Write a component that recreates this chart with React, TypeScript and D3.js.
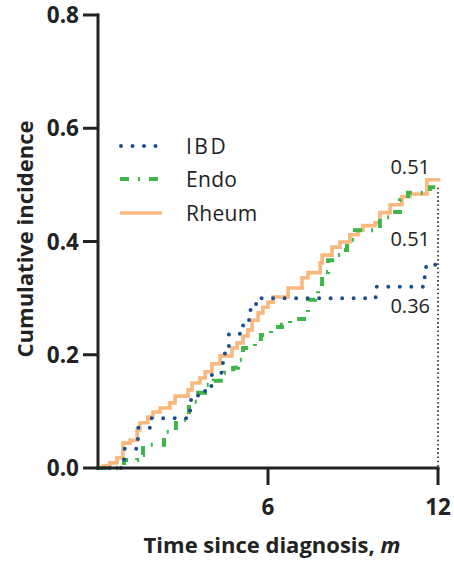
import React from "react";
import * as d3 from "d3";

const IBD_T = [0, 0.92, 1.41, 1.84, 3.25, 3.53, 3.78, 4.02, 4.41, 4.48, 4.62, 5.12, 5.33, 5.58, 5.72, 9.8, 11.52, 11.58, 12];
const IBD_Y = [0, 0.034, 0.071, 0.088, 0.12, 0.131, 0.145, 0.168, 0.186, 0.205, 0.237, 0.253, 0.279, 0.292, 0.3, 0.32, 0.337, 0.359, 0.359];

const ENDO_T = [0, 0.92, 1.38, 1.59, 2.33, 2.75, 3.21, 3.53, 3.78, 4.09, 4.45, 4.77, 4.94, 5.12, 5.54, 5.75, 6.11, 6.49, 6.78, 7.41, 7.66, 7.77, 7.91, 8.12, 8.37, 8.68, 8.79, 9.07, 9.95, 10.38, 10.66, 10.94, 11.72, 12.05];
const ENDO_Y = [0, 0.014, 0.023, 0.041, 0.064, 0.085, 0.117, 0.133, 0.147, 0.154, 0.168, 0.177, 0.191, 0.212, 0.223, 0.235, 0.249, 0.253, 0.263, 0.297, 0.304, 0.325, 0.346, 0.367, 0.376, 0.385, 0.403, 0.42, 0.443, 0.452, 0.473, 0.486, 0.496, 0.496];

const RHEUM_T = [0, 0.18, 0.42, 0.67, 0.88, 1.13, 1.38, 1.48, 1.76, 1.94, 2.19, 2.54, 2.72, 3.18, 3.32, 3.6, 3.78, 4.02, 4.31, 4.73, 4.91, 5.12, 5.29, 5.44, 5.65, 5.82, 6.0, 6.18, 6.71, 7.2, 7.41, 7.84, 7.91, 8.26, 8.54, 8.89, 9.18, 9.35, 9.78, 9.95, 10.31, 10.73, 11.01, 11.61, 12.08];
const RHEUM_Y = [0, 0.004, 0.009, 0.018, 0.044, 0.049, 0.067, 0.08, 0.09, 0.099, 0.106, 0.115, 0.127, 0.138, 0.15, 0.159, 0.17, 0.184, 0.198, 0.212, 0.221, 0.233, 0.244, 0.261, 0.274, 0.284, 0.293, 0.302, 0.318, 0.336, 0.345, 0.362, 0.376, 0.39, 0.399, 0.412, 0.42, 0.428, 0.433, 0.451, 0.465, 0.479, 0.484, 0.509, 0.509];

const Y_TICKS = [0, 0.2, 0.4, 0.6, 0.8];
const X_TICKS = [6, 12];
const SERIES_NAMES = ["IBD", "Endo", "Rheum"];
const END_LABELS = ["0.51", "0.51", "0.36"];

const C_IBD = "#1d4f8f";
const C_ENDO = "#3db54a";
const C_RHEUM = "#f8b87e";
const INK = "#222";
const FONT = "'Open Sans', 'Noto Sans', sans-serif";

export default function App() {
  const x = d3.scaleLinear().domain([0, 12]).range([98, 438]);
  const y = d3.scaleLinear().domain([0, 0.8]).range([468, 15]);

  const mk = (T: number[], Y: number[]) =>
    d3
      .line<number>()
      .x((_, i) => x(T[i]))
      .y((v) => y(v))
      .curve(d3.curveStepAfter)(Y) as string;

  const styles = [
    { stroke: C_IBD, width: 4, dash: "0 11.5", cap: "round" as const },
    { stroke: C_ENDO, width: 4, dash: "9 9 2 9", cap: "butt" as const },
    { stroke: C_RHEUM, width: 3.6, dash: "", cap: "butt" as const },
  ];

  const paths = [
    { d: mk(RHEUM_T, RHEUM_Y), s: styles[2] },
    { d: mk(ENDO_T, ENDO_Y), s: styles[1] },
    { d: mk(IBD_T, IBD_Y), s: styles[0] },
  ];

  const legendY = [146, 179, 213];
  const labelY = [174, 246, 313];

  return (
    <svg
      width={454}
      height={563}
      style={{ position: "absolute", left: 0, top: 0, background: "#fff" }}
      fontFamily={FONT}
    >
      <line
        x1={x(12)}
        x2={x(12)}
        y1={y(0.495)}
        y2={y(0)}
        stroke={INK}
        strokeWidth={1.6}
        strokeDasharray="1.6 2.6"
      />
      {paths.map((p, i) => (
        <path
          key={i}
          d={p.d}
          fill="none"
          stroke={p.s.stroke}
          strokeWidth={p.s.width}
          strokeDasharray={p.s.dash || undefined}
          strokeLinecap={p.s.cap}
        />
      ))}
      <line x1={x(0)} x2={x(0)} y1={y(0.8) - 1.5} y2={y(0) + 1.5} stroke={INK} strokeWidth={3} />
      <line x1={x(0) - 1.5} x2={x(12) + 1.5} y1={y(0)} y2={y(0)} stroke={INK} strokeWidth={3} />
      {Y_TICKS.map((t) => (
        <g key={t}>
          <line x1={x(0) - 15} x2={x(0)} y1={y(t)} y2={y(t)} stroke={INK} strokeWidth={3} />
          <text
            x={x(0) - 19}
            y={y(t)}
            dy="0.36em"
            textAnchor="end"
            fontSize={22.5}
            fontWeight="bold"
            fill={INK}
          >
            {t.toFixed(1)}
          </text>
        </g>
      ))}
      {X_TICKS.map((t) => (
        <g key={t}>
          <line x1={x(t)} x2={x(t)} y1={y(0)} y2={y(0) + 17} stroke={INK} strokeWidth={3} />
          <text x={x(t)} y={515} textAnchor="middle" fontSize={22.5} fontWeight="bold" fill={INK}>
            {t}
          </text>
        </g>
      ))}
      <text x={272} y={553} textAnchor="middle" fontSize={22} fontWeight="bold" fill={INK}>
        Time since diagnosis, <tspan fontStyle="italic">m</tspan>
      </text>
      <text
        transform="translate(33,239) rotate(-90)"
        textAnchor="middle"
        fontSize={22}
        fontWeight="bold"
        fill={INK}
      >
        Cumulative incidence
      </text>
      {SERIES_NAMES.map((n, i) => (
        <g key={n}>
          <line
            x1={i === 0 ? 121 : 120}
            x2={162}
            y1={legendY[i]}
            y2={legendY[i]}
            stroke={styles[i].stroke}
            strokeWidth={styles[i].width}
            strokeDasharray={styles[i].dash || undefined}
            strokeLinecap={styles[i].cap}
          />
          <text x={186} y={legendY[i]} dy="0.36em" fontSize={21} fill={INK} letterSpacing={i === 0 ? 2.5 : 0.3}>
            {n}
          </text>
        </g>
      ))}
      {END_LABELS.map((l, i) => (
        <text key={i} x={430} y={labelY[i]} textAnchor="end" fontSize={20} fill={INK}>
          {l}
        </text>
      ))}
    </svg>
  );
}
